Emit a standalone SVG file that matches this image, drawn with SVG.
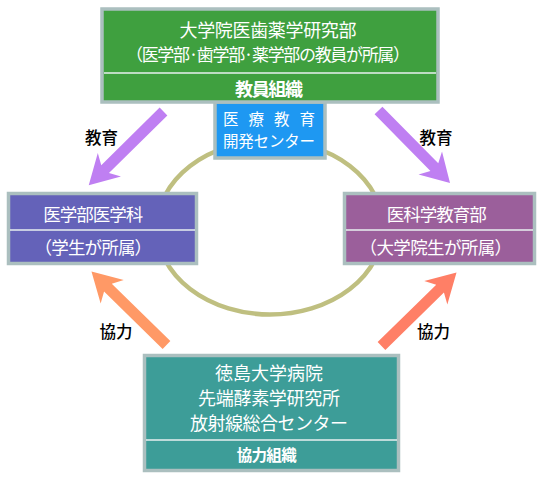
<svg xmlns="http://www.w3.org/2000/svg" width="542" height="480" viewBox="0 0 542 480">
<style>
.box{stroke:#abbfbf;stroke-width:3.5}
.div{stroke:#e8f0f0;stroke-width:1.5}
.t{font-family:"Noto Sans CJK JP","Noto Sans",sans-serif;fill:#ffffff;text-anchor:middle;font-size:17.5px}
.h{font-feature-settings:"halt"}
.b{font-weight:bold}
.lbl{font-family:"Noto Sans CJK JP","Noto Sans",sans-serif;fill:#000000;text-anchor:middle;font-size:16.5px;font-weight:500}
</style>
<defs>
<polygon id="arr" points="0,-5.5 82,-5.5 76,-16.5 105,0 76,16.5 82,5.5 0,5.5"/>
</defs>
<rect width="542" height="480" fill="#ffffff"/>
<g id="ring">
<ellipse cx="270" cy="227.5" rx="113" ry="87" fill="none" stroke="#bfbf80" stroke-width="4.5"/>
</g>
<g id="center">
<rect class="box" x="215" y="102" width="110" height="56" fill="#1e98f2"/>
<text class="t" x="269" y="125" style="font-size:15.5px" textLength="92" lengthAdjust="spacing">医 療 教 育</text>
<text class="t" x="269" y="147" style="font-size:15.5px" textLength="92" lengthAdjust="spacing">開発センター</text>
</g>
<g id="top">
<rect class="box" x="102" y="9" width="336" height="93" fill="#3fa03f"/>
<line class="div" x1="104" y1="73" x2="436" y2="73"/>
<text class="t" x="268" y="36.5" style="font-size:18px" textLength="177" lengthAdjust="spacing">大学院医歯薬学研究部</text>
<text class="t h" x="268" y="60.5" style="font-size:17px" textLength="267" lengthAdjust="spacing">（医学部·歯学部·薬学部の教員が所属）</text>
<text class="t b" x="269" y="95.5" style="font-size:18px" textLength="68" lengthAdjust="spacing">教員組織</text>
</g>
<g id="left">
<rect class="box" x="8.5" y="193.5" width="188" height="70" fill="#6462b9"/>
<line class="div" x1="10" y1="230" x2="195" y2="230"/>
<text class="t" x="93.3" y="220.5" textLength="100" lengthAdjust="spacing">医学部医学科</text>
<text class="t h" x="93.3" y="254" textLength="100" lengthAdjust="spacing">（学生が所属）</text>
</g>
<g id="right">
<rect class="box" x="344.5" y="193.5" width="190" height="70" fill="#9b5f9b"/>
<line class="div" x1="346" y1="230" x2="533" y2="230"/>
<text class="t" x="436.7" y="220.5" textLength="100" lengthAdjust="spacing">医科学教育部</text>
<text class="t h" x="435.8" y="254" textLength="135" lengthAdjust="spacing">（大学院生が所属）</text>
</g>
<g id="bottom">
<rect class="box" x="144.5" y="355.5" width="254" height="115" fill="#3d9d98"/>
<line class="div" x1="146" y1="440" x2="397" y2="440"/>
<text class="t" x="269" y="379.5" style="font-size:18px" textLength="108" lengthAdjust="spacing">徳島大学病院</text>
<text class="t" x="269" y="405" style="font-size:18px" textLength="142" lengthAdjust="spacing">先端酵素学研究所</text>
<text class="t" x="269" y="429.5" style="font-size:18px" textLength="158" lengthAdjust="spacing">放射線総合センター</text>
<text class="t b" x="266.7" y="460.5" style="font-size:15.5px" textLength="60" lengthAdjust="spacing">協力組織</text>
</g>
<g id="connectors">
<use href="#arr" fill="#bf7ff2" transform="translate(163.5,111.5) rotate(135.4)"/>
<use href="#arr" fill="#bf7ff2" transform="translate(378.5,110.5) rotate(45.4) scale(0.97,1)"/>
<use href="#arr" fill="#ff9966" transform="translate(166.5,345) rotate(-135.6)"/>
<use href="#arr" fill="#ff7f66" transform="translate(381.5,346) rotate(-44.4)"/>
<text class="lbl" x="101.5" y="144">教育</text>
<text class="lbl" x="436" y="144">教育</text>
<text class="lbl" x="116" y="337.5">協力</text>
<text class="lbl" x="433.5" y="337.5">協力</text>
</g>
</svg>
